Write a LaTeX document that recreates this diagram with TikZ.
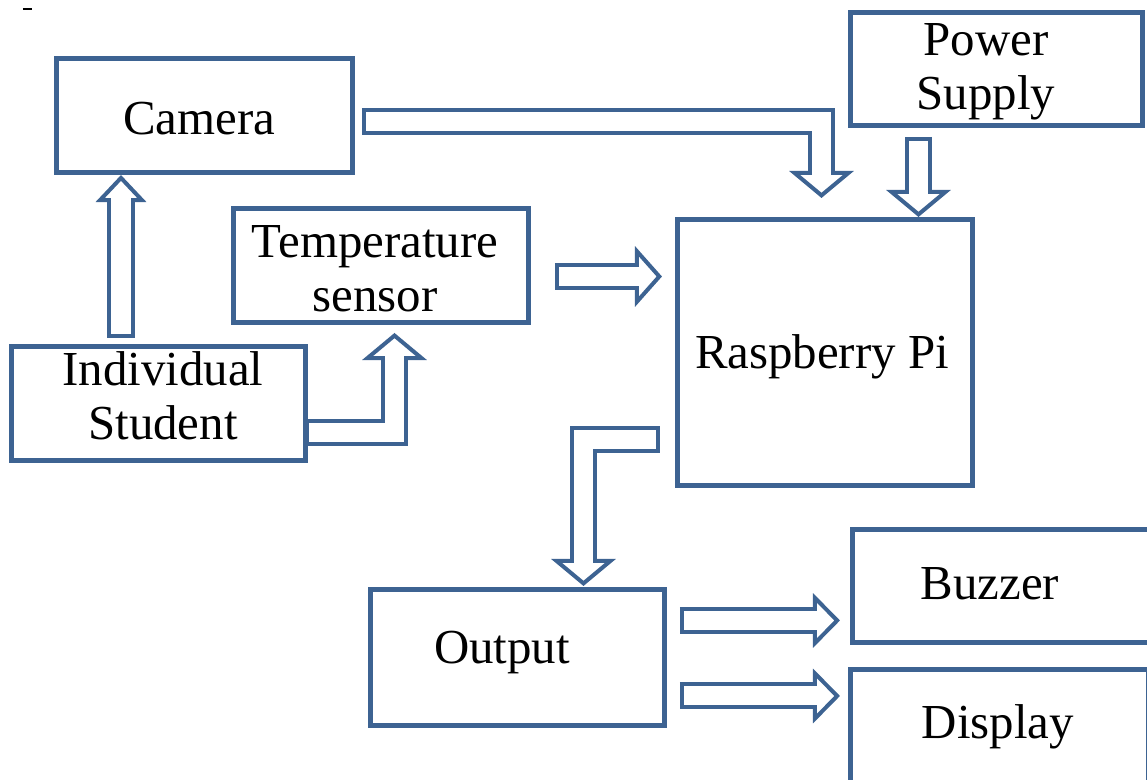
\documentclass[tikz,border=0pt]{standalone}
\usepackage{fontspec}
\setmainfont{Liberation Serif}
\usepackage{xcolor}
\definecolor{colorBox}{RGB}{61,99,146}
\usetikzlibrary{arrows.meta}
\tikzset{txt/.style={align=center, inner sep=0pt, font=\fontsize{13.9}{15.3}\selectfont}}

\begin{document}
\begin{tikzpicture}[x=0.01cm, y=-0.01cm,
  block/.style={draw=colorBox, line width=0.05cm, inner sep=0pt},
  hollow/.style={draw=colorBox, line width=0.27cm, line join=miter,
    -{Triangle[open, line width=0.04cm, length=0.27cm, width=#1]},
    postaction={draw=white, line width=0.19cm, -, shorten <=0.04cm, shorten >=0.2cm}},
  hollow/.default=0.64cm]
\useasboundingbox (0,0) rectangle (1147,780);
\draw[line width=0.02cm] (23,9) -- (32,9);
% boxes
\node[block, minimum width=2.95cm, minimum height=1.13cm] (camera) at (204.5,115.5) {};
\node[block, minimum width=2.94cm, minimum height=1.13cm] (temp) at (381,265.5) {};
\node[block, minimum width=2.93cm, minimum height=1.13cm] (student) at (158.5,403.5) {};
\node[block, minimum width=2.91cm, minimum height=1.12cm] (power) at (996.5,69) {};
\node[block, minimum width=2.94cm, minimum height=2.65cm] (rpi) at (825,352.5) {};
\node[block, minimum width=2.93cm, minimum height=1.35cm] (output) at (517.5,657.5) {};
\node[block, minimum width=2.97cm, minimum height=1.12cm] (buzzer) at (1001.5,586) {};
\node[block, minimum width=2.97cm, minimum height=1.15cm] (display) at (999.5,727.5) {};
% texts
\node[txt] (cameraText) at (199,119) {Camera};
\node[txt] (tempText) at (375,269) {Temperature\\sensor};
\node[txt] (studentText) at (163,396) {Individual\\Student};
\node[txt] (powerText) at (986,72) {Power\\Supply};
\node[txt] (rpiText) at (822,357) {Raspberry Pi};
\node[txt] (outputText) at (502,653) {Output};
\node[txt] (buzzerText) at (990,584) {Buzzer};
\node[txt] (displayText) at (998,727) {Display};
% arrow ends
\coordinate (studentUp) at (121,338);   \coordinate (cameraIn) at (121,175);
\coordinate (studentOut) at (305,432.5); \coordinate (tempIn) at (394.5,333);
\coordinate (cameraOut) at (362,121.5);  \coordinate (rpiInA) at (821.5,198);
\coordinate (powerOut) at (918.5,137);   \coordinate (rpiInB) at (918.5,217);
\coordinate (tempOut) at (555,276.5);    \coordinate (rpiInC) at (662,276.5);
\coordinate (rpiOut) at (660,440);       \coordinate (outputIn) at (583.5,586);
\coordinate (outputA) at (680,620.5);    \coordinate (buzzerIn) at (840,620.5);
\coordinate (outputB) at (680,696);      \coordinate (displayIn) at (840,696);
% arrows
\draw[hollow=0.5cm] (studentUp) -- (cameraIn);
\draw[hollow] (studentOut) -| (tempIn);
\draw[hollow] (cameraOut) -| (rpiInA);
\draw[hollow] (powerOut) -- (rpiInB);
\draw[hollow=0.6cm] (tempOut) -- (rpiInC);
\draw[hollow] (rpiOut) -| (outputIn);
\draw[hollow=0.54cm] (outputA) -- (buzzerIn);
\draw[hollow=0.54cm] (outputB) -- (displayIn);
\end{tikzpicture}
\end{document}
